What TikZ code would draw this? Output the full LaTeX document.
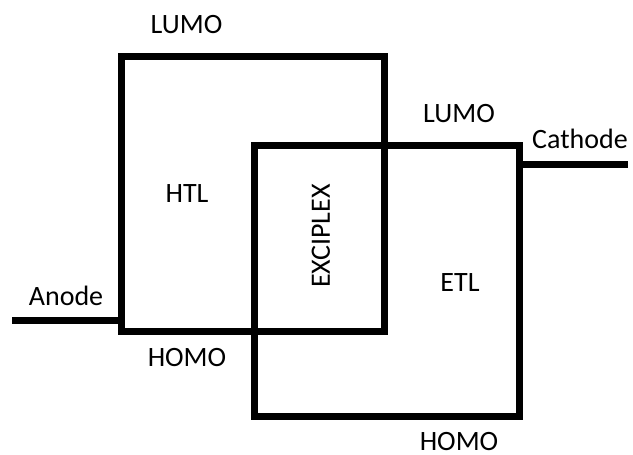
\documentclass[tikz,border=0pt]{standalone}
\usepackage{fontspec}
\setmainfont{Carlito}
\begin{document}
\begin{tikzpicture}[x=1pt,y=-1pt,
  lyr/.style={draw=black,line width=7pt,line join=miter},
  lead/.style={draw=black,line width=7pt},
  lbl/.style={inner sep=0pt,font=\fontsize{28}{30}\selectfont,anchor=base}]
\useasboundingbox (0,0) rectangle (633,455);
\coordinate (h1) at (121.5,56);
\coordinate (h2) at (384,331);
\coordinate (e1) at (254,145);
\coordinate (e2) at (519,416);
\draw[lyr] (h1) rectangle (h2);
\draw[lyr] (e1) rectangle (e2);
\coordinate (an) at (12,320);
\coordinate (anb) at (121.5,320);
\coordinate (ca) at (628,164.5);
\coordinate (cab) at (519,164.5);
\draw[lead] (an) -- (anb);
\draw[lead] (cab) -- (ca);
\node[lbl] (lumo1) at (186.5,34) {LUMO};
\node[lbl] (lumo2) at (459,122) {LUMO};
\node[lbl] (cath) at (580,148) {Cathode};
\node[lbl] (htl) at (187,202) {HTL};
\node[lbl] (etl) at (460,291) {ETL};
\node[lbl] (anode) at (66,305) {Anode};
\node[lbl] (homo1) at (187,366) {HOMO};
\node[lbl] (homo2) at (459,450) {HOMO};
\node[inner sep=0pt,font=\fontsize{28}{30}\selectfont,rotate=90] (exc) at (321,236) {EXCIPLEX};
\end{tikzpicture}
\end{document}
